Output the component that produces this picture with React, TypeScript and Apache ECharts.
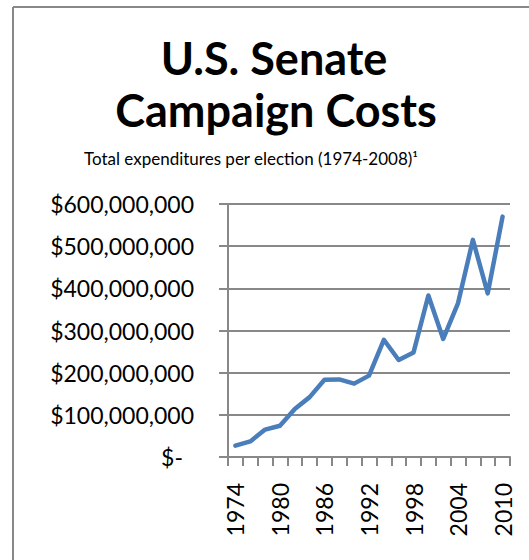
import React, { useEffect, useRef } from "react";
import * as echarts from "echarts";

const years: string[] = [
  "1974", "1976", "1978", "1980", "1982", "1984", "1986", "1988", "1990", "1992",
  "1994", "1996", "1998", "2000", "2002", "2004", "2006", "2008", "2010",
];
const expenditures: number[] = [
  27000000, 37000000, 65000000, 74000000, 114000000, 142000000, 183000000, 184000000, 174000000, 193000000,
  278000000, 230000000, 248000000, 383000000, 280000000, 365000000, 515000000, 388000000, 570000000,
];
const titleLines: string[] = ["U.S. Senate", "Campaign Costs"];
const subtitle = "Total expenditures per election (1974-2008)\u00B9";

const FONT = "Lato";
const GRAY = "#888888";

export default function App() {
  const ref = useRef<HTMLDivElement>(null);
  useEffect(() => {
    if (!ref.current) return;
    const chart = echarts.init(ref.current, null, { renderer: "svg" });
    chart.setOption({
      animation: false,
      backgroundColor: "#ffffff",
      grid: { left: 228, right: 19, top: 204, bottom: 103, containLabel: false },
      graphic: [
        { type: "line", shape: { x1: 13, y1: 7, x2: 529, y2: 7 }, style: { stroke: GRAY, lineWidth: 2 } },
        { type: "line", shape: { x1: 13, y1: 7, x2: 13, y2: 560 }, style: { stroke: GRAY, lineWidth: 2 } },
        {
          type: "text", x: 274, y: 80,
          style: { text: titleLines[0], fontFamily: FONT, fontWeight: "bold", fontSize: 45, fill: "#000", textAlign: "center", textVerticalAlign: "bottom" },
        },
        {
          type: "text", x: 276, y: 132,
          style: { text: titleLines[1], fontFamily: FONT, fontWeight: "bold", fontSize: 45, fill: "#000", textAlign: "center", textVerticalAlign: "bottom" },
        },
        {
          type: "text", x: 251, y: 167,
          style: { text: subtitle, fontFamily: FONT, fontSize: 17, fill: "#000", textAlign: "center", textVerticalAlign: "bottom" },
        },
      ],
      xAxis: {
        type: "category",
        data: years,
        boundaryGap: true,
        axisLine: { show: true, lineStyle: { color: GRAY, width: 2 } },
        axisTick: { show: true, interval: 0, length: 9, lineStyle: { color: GRAY, width: 2 } },
        axisLabel: { interval: 2, rotate: 90, margin: 26, fontFamily: FONT, fontSize: 23, color: "#000" },
        splitLine: { show: false },
      },
      yAxis: {
        type: "value",
        min: 0,
        max: 600000000,
        interval: 100000000,
        axisLine: { show: true, lineStyle: { color: GRAY, width: 2 } },
        axisTick: { show: true, length: 9, lineStyle: { color: GRAY, width: 2 } },
        splitLine: { show: true, lineStyle: { color: GRAY, width: 2 } },
        axisLabel: {
          margin: 34,
          fontFamily: FONT,
          fontSize: 23,
          color: "#000",
          formatter: (v: number) => (v === 0 ? "{z|$-}" : "$" + v.toLocaleString("en-US")),
          rich: { z: { padding: [0, 11, 0, 0], fontFamily: FONT, fontSize: 23, color: "#000" } },
        },
      },
      series: [
        {
          type: "line",
          data: expenditures,
          symbol: "none",
          lineStyle: { color: "#4a7ebb", width: 4.5, cap: "round", join: "round" },
        },
      ],
    });
    return () => chart.dispose();
  }, []);
  return <div ref={ref} style={{ position: "fixed", left: 0, top: 0, width: 529, height: 560 }} />;
}
